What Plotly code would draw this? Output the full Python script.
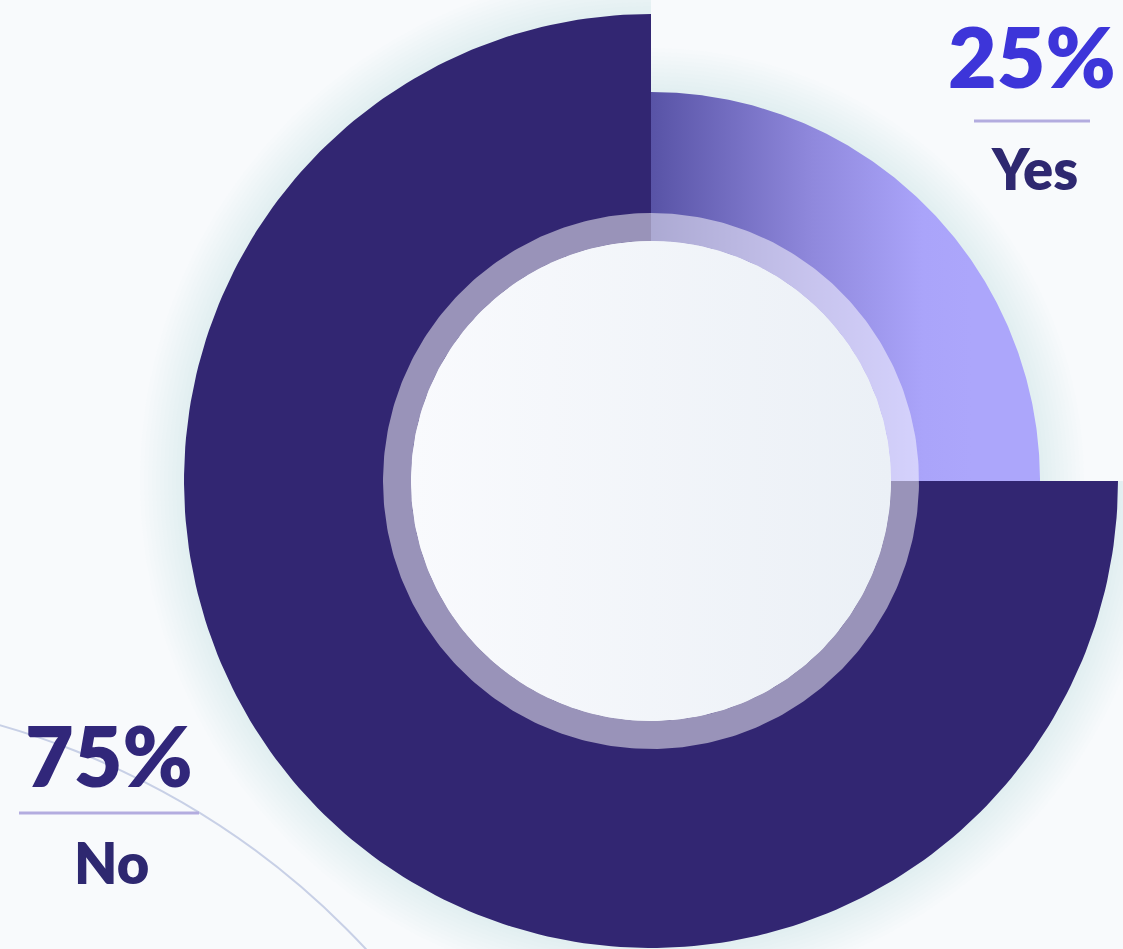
import numpy as np
import plotly.graph_objects as go

# --- data ---
labels = ["Yes", "No"]
shares = [25, 75]
pct_labels = ["25%", "75%"]

# --- geometry / style ---
W, H = 1123, 949
CX, CY = 651, 481                    # donut centre (pixel space, y down)
R_OUTER = {"Yes": 389, "No": 467}    # each slice has its own outer radius
R_INNER = 240
RING_OUTER = 268
BG = "#f8fafc"
NO_COLOR = "#322672"
YES_GRAD = [[0, "#5853a6"], [0.5, "#8f88dc"], [0.85, "#aaa4fa"], [1, "#aca6fb"]]


def arc(r, a0, a1, n=240):
    t = np.linspace(a0, a1, n)
    return CX + r * np.sin(t), CY - r * np.cos(t)


def wedge(r0, r1, a0, a1, n=240):
    xo, yo = arc(r1, a0, a1, n)
    xi, yi = arc(r0, a1, a0, n)
    return np.r_[xo, xi, xo[0]], np.r_[yo, yi, yo[0]]


# slice angles, clockwise from 12 o'clock
total = float(sum(shares))
bounds = np.r_[0, np.cumsum(shares)] / total * 2 * np.pi
spans = {lab: (bounds[i], bounds[i + 1]) for i, lab in enumerate(labels)}

fig = go.Figure()

# soft glow behind the slices
for d in range(4, 48, 4):
    for lab in labels:
        a0, a1 = spans[lab]
        r = R_OUTER[lab]
        x, y = wedge(r - 2, r + d, a0, a1)
        fig.add_trace(go.Scatter(x=x, y=y, mode="lines", fill="toself",
                                 fillcolor="rgba(170,205,218,0.018)",
                                 line=dict(width=0), hoverinfo="skip",
                                 showlegend=False))

# slices
for lab in labels:
    a0, a1 = spans[lab]
    x, y = wedge(R_INNER, R_OUTER[lab], a0, a1)
    if lab == "Yes":
        fig.add_trace(go.Scatter(
            x=x, y=y, mode="lines", fill="toself", name=lab,
            fillgradient=dict(type="horizontal", colorscale=YES_GRAD,
                              start=CX, stop=CX + 320),
            line=dict(width=0), hoverinfo="name", showlegend=False))
    else:
        fig.add_trace(go.Scatter(
            x=x, y=y, mode="lines", fill="toself", name=lab,
            fillcolor=NO_COLOR, line=dict(width=0),
            hoverinfo="name", showlegend=False))

# translucent inner ring
x, y = wedge(R_INNER, RING_OUTER, 0, 2 * np.pi, 400)
fig.add_trace(go.Scatter(x=x, y=y, mode="lines", fill="toself",
                         fillcolor="rgba(255,255,255,0.5)", line=dict(width=0),
                         hoverinfo="skip", showlegend=False))

# centre disc
x, y = arc(R_INNER, 0, 2 * np.pi, 400)
fig.add_trace(go.Scatter(
    x=x, y=y, mode="lines", fill="toself",
    fillgradient=dict(type="horizontal",
                      colorscale=[[0, "#f9fafd"], [1, "#ebf0f6"]],
                      start=CX - R_INNER, stop=CX + R_INNER),
    line=dict(width=0), hoverinfo="skip", showlegend=False))

# decorative background arc
shapes = [dict(type="circle", xref="x", yref="y", layer="below",
               x0=-218 - 798, x1=-218 + 798, y0=1493 - 798, y1=1493 + 798,
               line=dict(color="#c8d0e6", width=2))]

# value labels
label_pos = {"Yes": (1032, "#3d35d9"), "No": (109, "#31277a")}
label_y = {"Yes": (55, 121, 168), "No": (754, 813, 862)}
annotations = []
for lab, pct in zip(labels, pct_labels):
    xc, col = label_pos[lab]
    y_pct, y_line, y_name = label_y[lab]
    annotations.append(dict(x=xc, y=y_pct, xref="x", yref="y", text=pct,
                            showarrow=False, xanchor="center", yanchor="middle",
                            font=dict(family="Lato", size=84, color=col,
                                      weight=800)))
    annotations.append(dict(x=xc + 2, y=y_name, xref="x", yref="y", text=lab,
                            showarrow=False, xanchor="center", yanchor="middle",
                            font=dict(family="Lato", size=56, color="#2e2870",
                                      weight=800)))
    half = 58 if lab == "Yes" else 90
    shapes.append(dict(type="line", xref="x", yref="y",
                       x0=xc - half, x1=xc + half, y0=y_line, y1=y_line,
                       line=dict(color="#b3acdf", width=3)))

fig.update_layout(
    width=W, height=H, margin=dict(l=0, r=0, t=0, b=0),
    paper_bgcolor=BG, plot_bgcolor=BG,
    xaxis=dict(range=[0, W], visible=False, fixedrange=True),
    yaxis=dict(range=[H, 0], visible=False, fixedrange=True,
               scaleanchor="x", scaleratio=1),
    shapes=shapes, annotations=annotations, showlegend=False,
)

fig.write_html("out.html", config={"displayModeBar": False})
